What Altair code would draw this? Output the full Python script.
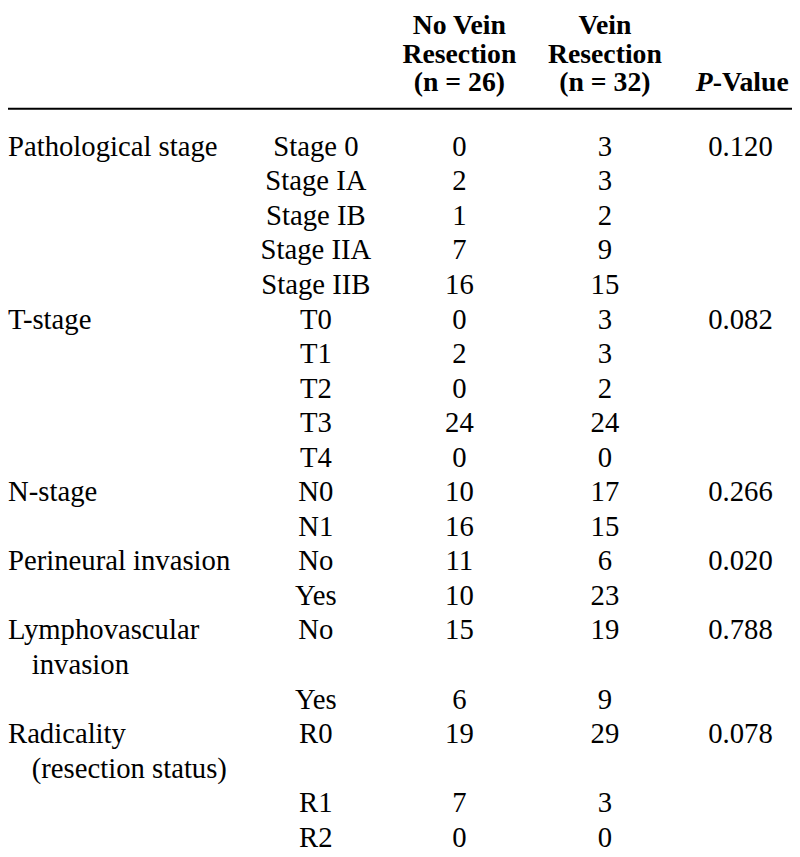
import altair as alt
import pandas as pd

# ---- data ----
groups = ["Pathological stage", "", "", "", "", "T-stage", "", "", "", "", "N-stage", "",
          "Perineural invasion", "", "Lymphovascular", "invasion", "", "Radicality",
          "(resection status)", "", ""]
indented = [0, 0, 0, 0, 0, 0, 0, 0, 0, 0, 0, 0, 0, 0, 0, 1, 0, 0, 1, 0, 0]
subs = ["Stage 0", "Stage IA", "Stage IB", "Stage IIA", "Stage IIB", "T0", "T1", "T2", "T3", "T4",
        "N0", "N1", "No", "Yes", "No", "", "Yes", "R0", "", "R1", "R2"]
no_vein = ["0", "2", "1", "7", "16", "0", "2", "0", "24", "0", "10", "16", "11", "10", "15", "",
           "6", "19", "", "7", "0"]
vein = ["3", "3", "2", "9", "15", "3", "3", "2", "24", "0", "17", "15", "6", "23", "19", "",
        "9", "29", "", "3", "0"]
pvals = ["0.120", "", "", "", "", "0.082", "", "", "", "", "0.266", "", "0.020", "", "0.788", "",
         "", "0.078", "", "", ""]

hdr_no_vein = ["No Vein", "Resection", "(n = 26)"]
hdr_vein = ["Vein", "Resection", "(n = 32)"]

df = pd.DataFrame(dict(row=list(range(len(subs))), group=groups, indent=indented, sub=subs,
                       nv=no_vein, v=vein, p=pvals))
hdr = pd.DataFrame(dict(line=[0, 1, 2], a=hdr_no_vein, b=hdr_vein))

FONT = "Liberation Serif"
body = dict(font=FONT, fontSize=29, baseline="middle", color="black")
head = dict(font=FONT, fontSize=28, fontWeight="bold", baseline="middle", color="black")

yb = alt.Y("row:Q", scale=alt.Scale(domain=[0, 20], range=[136, 834]), axis=None)
base = alt.Chart(df).encode(y=yb)

g0 = base.transform_filter("datum.indent == 0").mark_text(align="left", **body).encode(
    x=alt.value(0), text="group:N")
g1 = base.transform_filter("datum.indent == 1").mark_text(align="left", **body).encode(
    x=alt.value(24), text="group:N")
c_sub = base.mark_text(align="center", **body).encode(x=alt.value(311), text="sub:N")
c_nv = base.mark_text(align="center", **body).encode(x=alt.value(456), text="nv:N")
c_v = base.mark_text(align="center", **body).encode(x=alt.value(603), text="v:N")
c_p = base.mark_text(align="center", **body).encode(x=alt.value(740), text="p:N")

yh = alt.Y("line:Q", scale=alt.Scale(domain=[0, 2], range=[14, 72]), axis=None)
hbase = alt.Chart(hdr).encode(y=yh)
h_a = hbase.mark_text(align="center", **head).encode(x=alt.value(456), text="a:N")
h_b = hbase.mark_text(align="center", **head).encode(x=alt.value(603), text="b:N")

pv = pd.DataFrame(dict(line=[2], p1=["P"], p2=["-Value"]))
pbase = alt.Chart(pv).encode(y=yh)
h_p1 = pbase.mark_text(align="right", fontStyle="italic", **head).encode(x=alt.value(712), text="p1:N")
h_p2 = pbase.mark_text(align="left", **head).encode(x=alt.value(712), text="p2:N")

rule = alt.Chart(pv).mark_rule(color="black", strokeWidth=2).encode(
    x=alt.value(0), x2=alt.value(792), y=alt.value(97.5))

chart = alt.layer(g0, g1, c_sub, c_nv, c_v, c_p, h_a, h_b, h_p1, h_p2, rule).resolve_scale(
    y="independent"
).properties(width=792, height=849, autosize="none", padding=0).configure_view(stroke=None)

chart.save("out.html", embed_options={"renderer": "svg", "actions": False})
